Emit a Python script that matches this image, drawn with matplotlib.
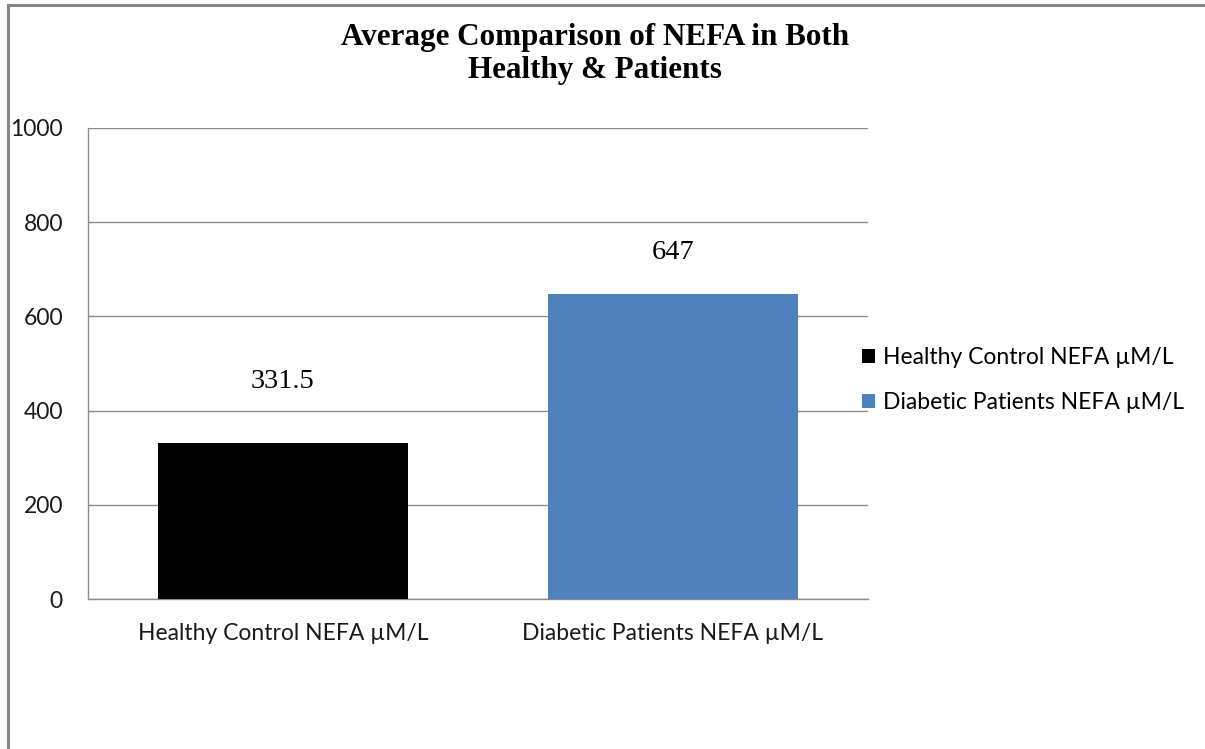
import matplotlib
matplotlib.use("Agg")
import matplotlib.pyplot as plt
from matplotlib.patches import Rectangle

categories = ["Healthy Control NEFA \u00b5M/L", "Diabetic Patients NEFA \u00b5M/L"]
values = [331.5, 647]
value_labels = ["331.5", "647"]
colors = ["#000000", "#4F81BD"]
yticks = [0, 200, 400, 600, 800, 1000]

W, H = 1205, 749
fig = plt.figure(figsize=(W / 100, H / 100), dpi=100)
fig.patch.set_facecolor("white")

# outer frame (left, top; right and bottom run off the canvas)
fig.add_artist(Rectangle((8 / W, -0.05), 1.2, (H - 5) / H + 0.05,
                         transform=fig.transFigure, fill=False,
                         edgecolor="#868686", linewidth=2.2))

ax = fig.add_axes([88 / W, 1 - 599 / H, (868 - 88) / W, (599 - 128) / H])
x = range(len(categories))
bars = ax.bar(x, values, width=0.64, color=colors, zorder=3)
ax.set_xlim(-0.5, 1.5)
ax.set_ylim(0, 1000)
ax.set_yticks(yticks)
ax.set_xticks(list(x))
ax.set_xticklabels(categories)
sans = ["Lato", "DejaVu Sans"]
fs = 16.5
for lab in ax.get_yticklabels() + ax.get_xticklabels():
    lab.set_family(sans)
    lab.set_fontsize(fs)
    lab.set_color("#1a1a1a")
ax.tick_params(axis="both", length=0)
ax.tick_params(axis="y", pad=18)
ax.tick_params(axis="x", pad=17)
ax.yaxis.grid(True, color="#8c8c8c", linewidth=1, zorder=0)
for s in ["top", "right"]:
    ax.spines[s].set_visible(False)
for s in ["left", "bottom"]:
    ax.spines[s].set_color("#8c8c8c")
    ax.spines[s].set_linewidth(1)

label_offsets = [44, 30]
for b, v, t, off in zip(bars, values, value_labels, label_offsets):
    ax.annotate(t, (b.get_x() + b.get_width() / 2, v), xytext=(0, off),
                textcoords="offset points", ha="center", va="center",
                fontsize=20.5, family="Liberation Serif")

fig.text(595 / W, 1 - 54 / H, "Average Comparison of NEFA in Both\nHealthy & Patients",
         ha="center", va="center", fontsize=22.4, fontweight="bold",
         family="Liberation Serif", linespacing=1.2)

leg = ax.legend(bars, categories, loc="center left", bbox_to_anchor=(0.966, 0.465),
                frameon=False, handlelength=0.55, handleheight=0.55, handletextpad=0.35,
                labelspacing=1.05, prop={"family": sans, "size": fs})

fig.savefig("out.png", dpi=100, facecolor="white")
